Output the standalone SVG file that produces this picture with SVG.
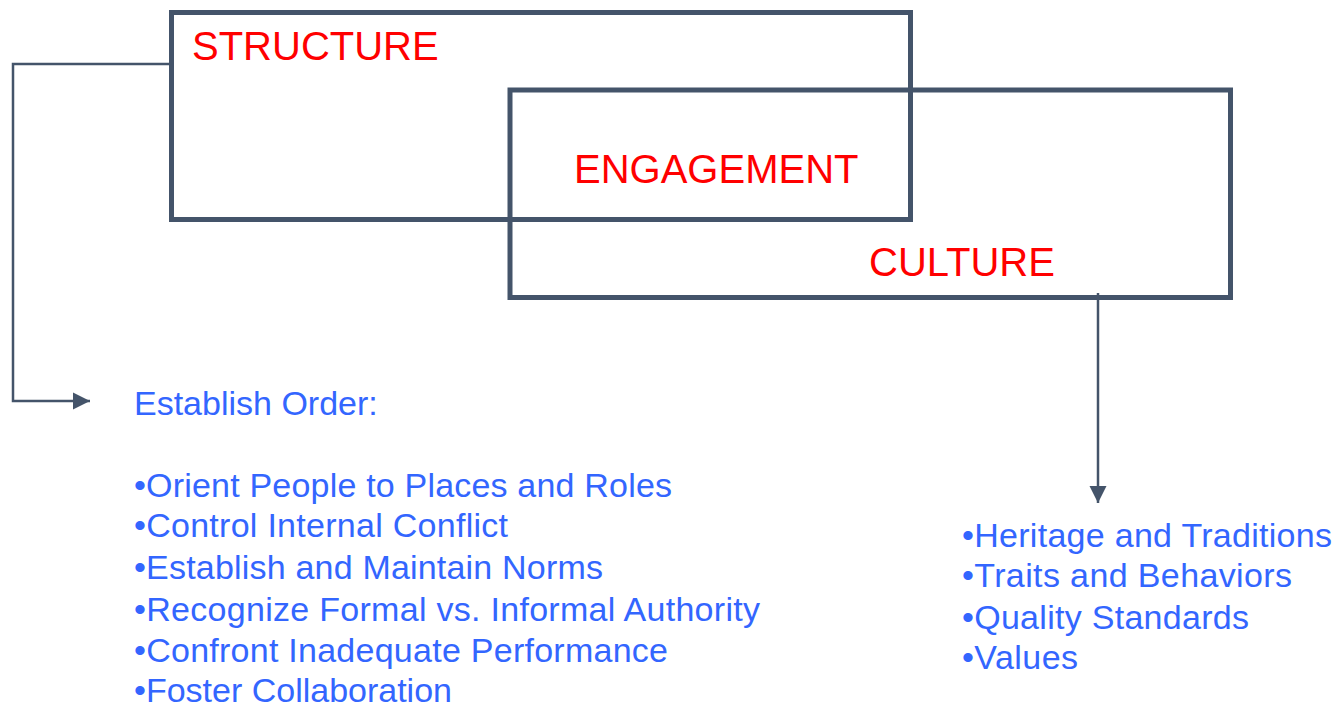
<svg xmlns="http://www.w3.org/2000/svg" width="1337" height="708" viewBox="0 0 1337 708">
  <style>
    .box { fill: none; stroke: #44546A; stroke-width: 5; }
    .wire { fill: none; stroke: #44546A; stroke-width: 2.5; }
    .head { font-family: "Liberation Sans", Arial, sans-serif; font-size: 40px; fill: #FF0000; }
    .item { font-family: "Liberation Sans", Arial, sans-serif; font-size: 34px; fill: #3366FF; }
  </style>
  <defs>
    <marker id="arrow" viewBox="0 0 10 10" refX="10" refY="5" markerWidth="7" markerHeight="7" markerUnits="strokeWidth" orient="auto">
      <path d="M0,0 L10,5 L0,10 z" fill="#44546A"/>
    </marker>
  </defs>
  <rect width="1337" height="708" fill="#FFFFFF"/>

  <g id="structure">
    <rect class="box" x="171.5" y="12.5" width="739" height="207"/>
    <text class="head" x="192" y="60">STRUCTURE</text>
  </g>

  <g id="culture">
    <rect class="box" x="510" y="90" width="720.5" height="207.5"/>
    <text class="head" x="869" y="276">CULTURE</text>
  </g>

  <g id="engagement">
    <text class="head" x="574" y="183">ENGAGEMENT</text>
  </g>

  <g id="connectors">
    <path class="wire" d="M169,64 H13 V401 H90" marker-end="url(#arrow)"/>
    <path class="wire" d="M1098,293 V503" marker-end="url(#arrow)"/>
  </g>

  <g id="establish-order">
    <text class="item" x="134" y="415">Establish Order:</text>
    <text class="item" x="134" y="497" textLength="538" lengthAdjust="spacing">•Orient People to Places and Roles</text>
    <text class="item" x="134" y="537" textLength="374" lengthAdjust="spacing">•Control Internal Conflict</text>
    <text class="item" x="134" y="579" textLength="469" lengthAdjust="spacing">•Establish and Maintain Norms</text>
    <text class="item" x="134" y="621" textLength="626" lengthAdjust="spacing">•Recognize Formal vs. Informal Authority</text>
    <text class="item" x="134" y="662" textLength="534" lengthAdjust="spacing">•Confront Inadequate Performance</text>
    <text class="item" x="134" y="702" textLength="318" lengthAdjust="spacing">•Foster Collaboration</text>
  </g>

  <g id="culture-list">
    <text class="item" x="962" y="547" textLength="370" lengthAdjust="spacing">•Heritage and Traditions</text>
    <text class="item" x="962" y="587" textLength="330" lengthAdjust="spacing">•Traits and Behaviors</text>
    <text class="item" x="962" y="629" textLength="287" lengthAdjust="spacing">•Quality Standards</text>
    <text class="item" x="962" y="669" textLength="116" lengthAdjust="spacing">•Values</text>
  </g>
</svg>
